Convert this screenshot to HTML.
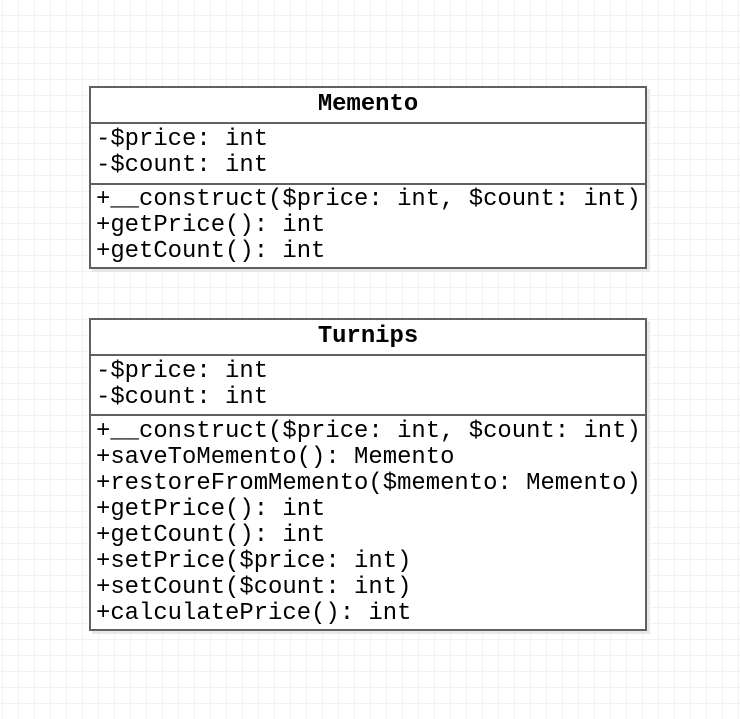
<!DOCTYPE html>
<html><head><style>
body{margin:0;width:740px;height:719px;overflow:hidden;background-color:#fff;
background-image:linear-gradient(#f2f2f2 1px,transparent 1px),linear-gradient(90deg,#f2f2f2 1px,transparent 1px);
background-size:16px 16px;background-position:2px 15px;position:relative;font-family:"Liberation Mono",monospace;}
.box{position:absolute;left:89px;width:554px;border:2px solid #606060;background:#fff;box-shadow:3px 3px 0 #e8e8e8;color:#000;font-size:23.9px}
.t{font-weight:bold;text-align:center;height:34px;line-height:34px;border-bottom:2px solid #606060}
.s{padding:0 0 0 5px;line-height:26px;white-space:pre}
.s+.s{border-top:2px solid #606060}
</style></head><body>
<div class="box" style="top:86px;height:179px">
<div class="t">Memento</div>
<div class="s" style="height:56px;padding-top:3px">-$price: int
-$count: int</div>
<div class="s" style="padding-top:2px">+__construct($price: int, $count: int)
+getPrice(): int
+getCount(): int</div>
</div>
<div class="box" style="top:318px;height:309px">
<div class="t">Turnips</div>
<div class="s" style="height:55px;padding-top:3px">-$price: int
-$count: int</div>
<div class="s" style="padding-top:3px">+__construct($price: int, $count: int)
+saveToMemento(): Memento
+restoreFromMemento($memento: Memento)
+getPrice(): int
+getCount(): int
+setPrice($price: int)
+setCount($count: int)
+calculatePrice(): int</div>
</div>
</body></html>
